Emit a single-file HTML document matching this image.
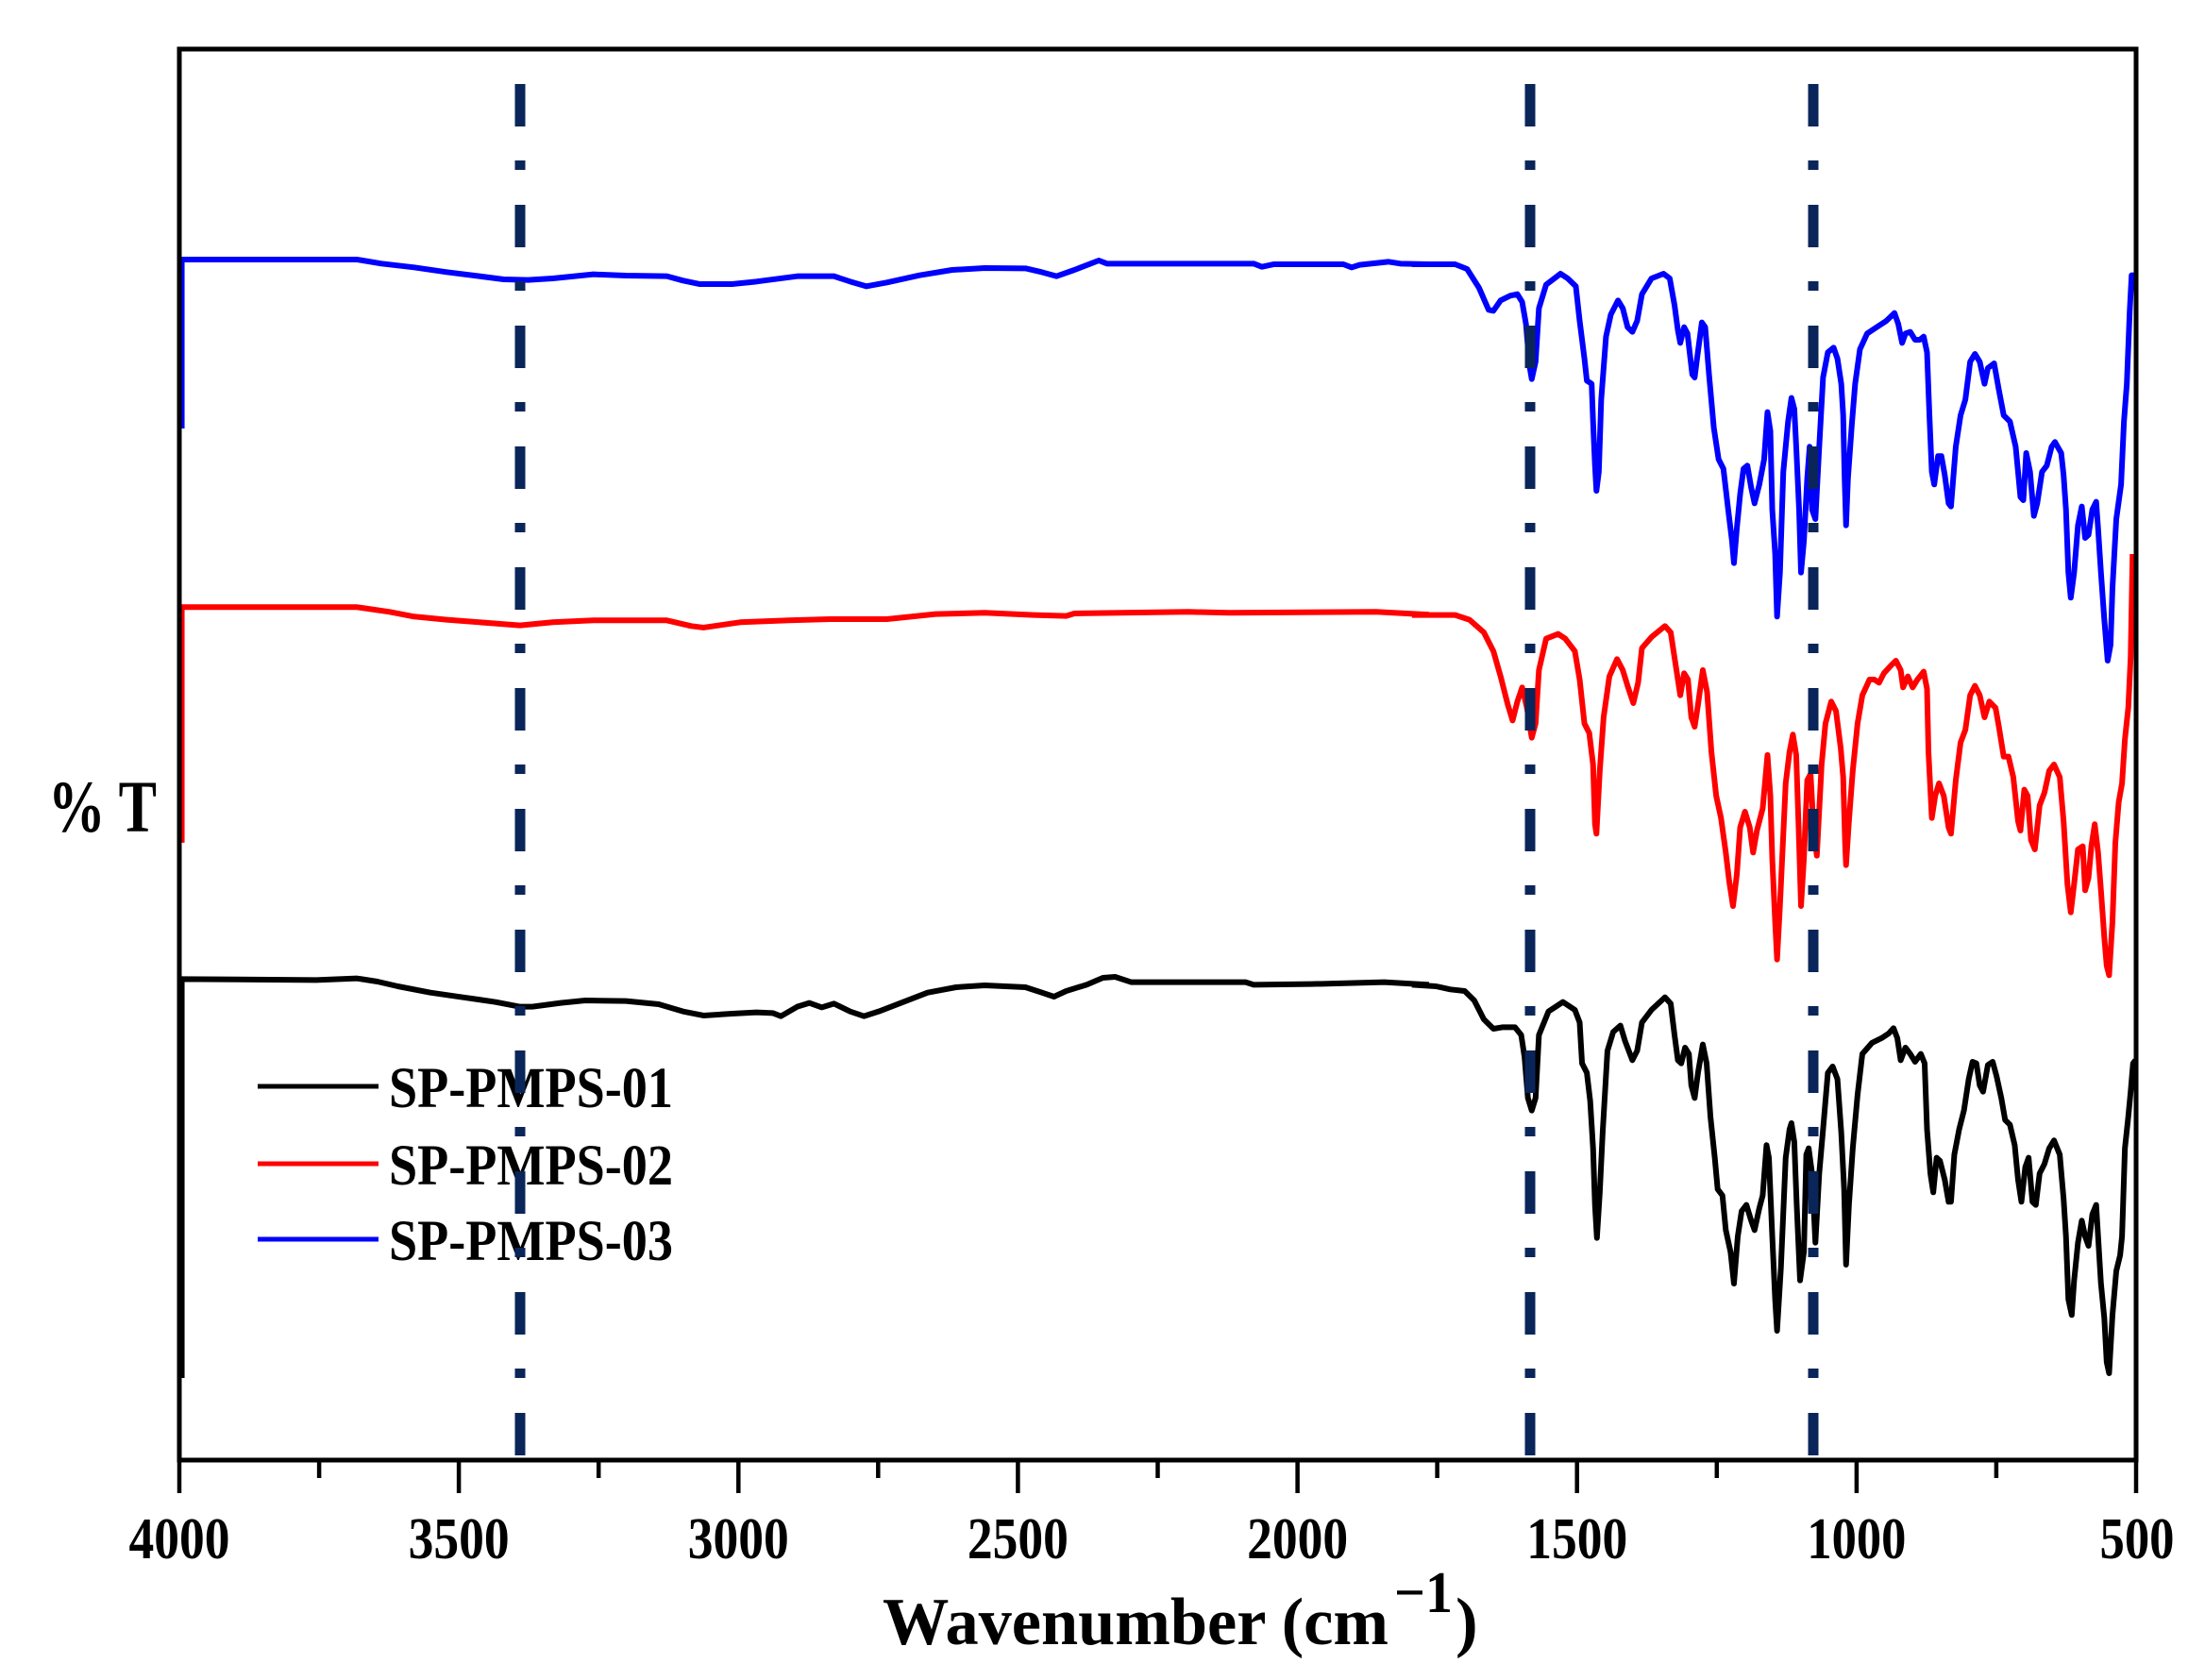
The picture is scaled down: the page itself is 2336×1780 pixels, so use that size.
<!DOCTYPE html>
<html>
<head>
<meta charset="utf-8">
<style>
html,body{margin:0;padding:0;background:#fff;}
svg{display:block;}
text{font-family:"Liberation Serif","Times New Roman",serif;font-weight:bold;fill:#000;}
</style>
</head>
<body>
<svg width="2336" height="1780" viewBox="0 0 2336 1780" xmlns="http://www.w3.org/2000/svg">
<rect x="0" y="0" width="2336" height="1780" fill="#fff"/>

<!-- BLUE (SP-PMPS-03) -->
<g transform="translate(179.6,250) scale(0.8636,0.3333)" fill="none" stroke="#0000ff" stroke-linejoin="round">
<polyline vector-effect="non-scaling-stroke" stroke-width="6" points="15,612 15,75 230,75 260,88 300,100 340,115 380,128 410,138 440,140 470,135 520,122 560,126 610,128 630,142 650,153 690,153 720,145 770,128 815,128 835,145 855,160 880,148 920,125 960,108 1000,102 1050,103 1070,115 1088,128 1110,108 1140,78 1150,88 1330,88 1340,98 1355,90 1440,90 1450,100 1460,92 1495,82 1510,88 1545,90"/>
</g>
<g transform="translate(1506,240) scale(0.5076,0.3333)" fill="none" stroke="#0000ff" stroke-linejoin="round">
<polyline vector-effect="non-scaling-stroke" stroke-width="6" points="-20,120 70,120 95,135 120,195 140,265 150,268 165,235 185,220 200,215 210,240 218,310 225,440 230,485 238,430 245,260 260,185 290,150 305,165 322,190 330,300 340,420 345,490 355,500 358,620 362,760 365,840 370,780 375,550 385,350 395,280 410,235 420,260 430,320 440,335 450,300 460,215 480,165 505,150 518,165 528,250 535,330 540,370 548,320 555,340 565,470 570,480 575,420 585,305 592,320 600,470 610,640 620,740 630,770 640,900 648,1000 652,1070 658,960 665,850 672,770 680,760 688,830 695,880 705,820 715,740 722,590 728,650 732,900 738,1040 742,1240 748,1100 755,780 765,620 772,545 778,580 782,700 788,900 792,1100 798,1000 805,800 810,700 815,900 822,930 830,700 838,480 848,400 860,385 868,420 876,500 880,600 883,800 886,950 890,800 898,630 905,500 915,390 930,340 950,320 970,300 987,275 995,310 1003,370 1010,340 1020,335 1030,360 1040,360 1048,350 1055,400 1060,600 1065,780 1070,820 1078,730 1085,730 1092,790 1100,880 1105,890 1115,700 1125,600 1135,550 1145,430 1155,405 1165,430 1175,500 1182,450 1195,435 1205,520 1215,600 1228,620 1240,700 1250,860 1256,870 1262,720 1270,780 1278,920 1285,880 1295,780 1305,760 1315,700 1322,685 1335,720 1340,790 1345,900 1350,1100 1355,1180 1362,1100 1370,950 1378,890 1385,990 1392,980 1400,900 1408,875 1412,960 1418,1100 1425,1250 1432,1380 1438,1330 1442,1150 1450,930 1460,820 1466,620 1472,500 1478,270 1482,155 1487,155"/>
</g>

<!-- RED (SP-PMPS-02) -->
<g transform="translate(179.6,250) scale(0.8636,0.3333)" fill="none" stroke="#ff0000" stroke-linejoin="round">
<polyline vector-effect="non-scaling-stroke" stroke-width="6" points="15,1929 15,1180 230,1180 270,1195 300,1210 340,1220 400,1232 430,1238 470,1228 520,1222 610,1222 640,1240 655,1245 700,1228 760,1222 810,1218 880,1218 940,1202 1000,1198 1060,1205 1100,1208 1110,1200 1250,1195 1300,1198 1480,1195 1545,1204"/>
</g>
<g transform="translate(1506,610) scale(0.5076,0.3333)" fill="none" stroke="#ff0000" stroke-linejoin="round">
<polyline vector-effect="non-scaling-stroke" stroke-width="6" points="-20,125 70,125 100,140 130,180 150,240 165,320 180,410 190,460 200,400 210,355 220,420 230,515 238,470 245,300 260,200 285,185 300,200 320,240 330,330 340,470 350,500 358,600 362,790 365,820 372,620 380,450 392,320 408,265 420,300 430,350 442,405 452,340 460,230 480,195 508,160 520,180 528,260 535,330 540,380 548,310 556,330 563,450 570,480 577,410 587,300 596,370 605,560 615,700 625,770 635,880 642,970 650,1050 658,950 665,800 675,750 685,800 692,880 700,810 712,740 722,570 728,700 732,900 738,1100 742,1220 748,1050 760,660 768,560 775,505 782,570 787,800 792,1050 798,900 805,650 812,630 818,800 825,890 835,600 843,470 855,400 865,430 875,550 880,640 884,850 886,920 892,780 900,620 910,470 920,380 935,330 945,330 955,340 965,310 980,285 990,270 1000,300 1005,355 1015,320 1025,355 1035,330 1048,305 1055,360 1058,560 1065,770 1072,700 1080,660 1090,700 1100,800 1105,820 1115,650 1125,530 1135,490 1145,380 1155,350 1165,380 1175,450 1185,400 1198,420 1205,480 1215,575 1225,575 1235,640 1245,780 1250,810 1258,680 1265,700 1272,840 1280,870 1290,730 1300,690 1310,620 1320,600 1332,640 1340,780 1348,980 1355,1070 1362,980 1370,870 1380,860 1385,1000 1392,960 1398,860 1405,790 1412,880 1418,1000 1425,1150 1430,1240 1435,1270 1442,1100 1448,850 1455,720 1462,660 1468,520 1475,420 1480,260 1484,-69"/>
</g>

<!-- BLACK (SP-PMPS-01) -->
<g transform="translate(179.6,1010) scale(0.8636,0.3333)" fill="none" stroke="#000" stroke-linejoin="round">
<polyline vector-effect="non-scaling-stroke" stroke-width="6" points="15,1350 15,82 180,85 230,80 255,90 280,105 320,125 360,140 400,155 430,170 445,170 480,158 510,150 560,152 600,162 630,185 655,198 690,192 720,188 740,190 750,200 770,170 785,158 800,172 815,160 835,185 852,200 870,185 900,155 930,125 965,108 1000,102 1050,108 1070,125 1085,138 1100,120 1125,100 1145,78 1160,75 1180,92 1320,92 1330,100 1400,98 1490,92 1545,100"/>
</g>
<g transform="translate(1506,1010) scale(0.5076,0.3333)" fill="none" stroke="#000" stroke-linejoin="round">
<polyline vector-effect="non-scaling-stroke" stroke-width="6" points="-20,100 30,105 60,115 90,120 110,150 130,210 150,240 170,235 195,235 208,260 215,330 222,460 230,500 238,460 245,260 265,185 295,155 320,180 330,220 335,350 345,380 352,470 358,620 362,800 366,905 372,760 378,570 388,310 400,250 415,230 425,280 440,340 450,310 460,220 480,180 508,140 520,160 528,260 535,340 542,350 550,300 558,320 563,420 570,460 577,380 587,290 595,350 603,520 612,650 618,750 628,770 635,880 645,950 652,1050 660,900 668,820 678,800 688,850 695,880 705,810 712,770 720,610 725,650 732,900 738,1100 742,1200 750,1000 760,650 768,560 772,540 778,600 783,800 790,1040 798,950 803,640 808,620 815,700 822,920 830,700 838,560 848,380 858,360 868,400 876,570 882,750 886,990 892,800 900,620 910,450 920,320 940,285 960,270 975,255 985,238 993,270 1000,340 1010,300 1020,320 1030,345 1042,320 1050,350 1055,560 1062,700 1068,760 1075,650 1082,660 1092,720 1100,790 1105,790 1112,640 1122,560 1132,500 1142,400 1150,345 1158,350 1165,420 1172,440 1182,355 1192,345 1200,390 1210,460 1218,530 1228,545 1238,610 1245,720 1252,790 1260,680 1267,650 1275,790 1282,800 1290,700 1300,670 1310,620 1320,595 1332,640 1340,780 1345,900 1350,1100 1357,1150 1362,1040 1370,920 1378,850 1385,900 1392,930 1400,830 1408,800 1412,900 1418,1050 1425,1160 1430,1300 1435,1335 1442,1150 1450,1010 1458,960 1462,900 1468,620 1475,520 1480,440 1485,350 1490,340"/>
</g>

<!-- Frame -->
<rect x="190" y="52" width="2073" height="1495" fill="none" stroke="#000" stroke-width="5"/>

<!-- Ticks -->
<g stroke="#000" stroke-width="4.5">
<line x1="190" y1="1547" x2="190" y2="1582"/>
<line x1="486.1" y1="1547" x2="486.1" y2="1582"/>
<line x1="782.3" y1="1547" x2="782.3" y2="1582"/>
<line x1="1078.4" y1="1547" x2="1078.4" y2="1582"/>
<line x1="1374.6" y1="1547" x2="1374.6" y2="1582"/>
<line x1="1670.7" y1="1547" x2="1670.7" y2="1582"/>
<line x1="1966.9" y1="1547" x2="1966.9" y2="1582"/>
<line x1="2263" y1="1547" x2="2263" y2="1582"/>
<line x1="338.1" y1="1547" x2="338.1" y2="1566"/>
<line x1="634.2" y1="1547" x2="634.2" y2="1566"/>
<line x1="930.3" y1="1547" x2="930.3" y2="1566"/>
<line x1="1226.5" y1="1547" x2="1226.5" y2="1566"/>
<line x1="1522.6" y1="1547" x2="1522.6" y2="1566"/>
<line x1="1818.8" y1="1547" x2="1818.8" y2="1566"/>
<line x1="2114.9" y1="1547" x2="2114.9" y2="1566"/>
</g>

<!-- Tick labels -->
<g font-size="62" text-anchor="middle">
<text x="190" y="1651" textLength="107" lengthAdjust="spacingAndGlyphs">4000</text>
<text x="486.1" y="1651" textLength="107" lengthAdjust="spacingAndGlyphs">3500</text>
<text x="782.3" y="1651" textLength="107" lengthAdjust="spacingAndGlyphs">3000</text>
<text x="1078.4" y="1651" textLength="107" lengthAdjust="spacingAndGlyphs">2500</text>
<text x="1374.6" y="1651" textLength="107" lengthAdjust="spacingAndGlyphs">2000</text>
<text x="1670.7" y="1651" textLength="107" lengthAdjust="spacingAndGlyphs">1500</text>
<text x="1966.9" y="1651" textLength="105" lengthAdjust="spacingAndGlyphs">1000</text>
<text x="2264" y="1651" textLength="79" lengthAdjust="spacingAndGlyphs">500</text>
</g>

<!-- Axis titles -->
<text x="935" y="1742" font-size="71" textLength="536" lengthAdjust="spacingAndGlyphs">Wavenumber (cm</text>
<text x="1477" y="1708" font-size="62" textLength="62" lengthAdjust="spacingAndGlyphs">−1</text>
<text x="1542" y="1742" font-size="71">)</text>
<text x="51" y="881" font-size="78" textLength="115" lengthAdjust="spacingAndGlyphs">% T</text>

<!-- Legend -->
<g stroke-width="5">
<line x1="273" y1="1151" x2="401" y2="1151" stroke="#000"/>
<line x1="273" y1="1233" x2="401" y2="1233" stroke="#ff0000"/>
<line x1="273" y1="1313" x2="401" y2="1313" stroke="#0000ff"/>
</g>
<g font-size="61">
<text x="412" y="1173" textLength="301" lengthAdjust="spacingAndGlyphs">SP-PMPS-01</text>
<text x="412" y="1255" textLength="301" lengthAdjust="spacingAndGlyphs">SP-PMPS-02</text>
<text x="412" y="1335" textLength="301" lengthAdjust="spacingAndGlyphs">SP-PMPS-03</text>
</g>

<!-- Dash-dot reference lines -->
<g stroke="#0a2559" stroke-width="11" stroke-dasharray="45 36 10 37" fill="none">
<line x1="551" y1="89" x2="551" y2="1543"/>
<line x1="1621" y1="89" x2="1621" y2="1543"/>
<line x1="1921" y1="89" x2="1921" y2="1543"/>
</g>
</svg>
</body>
</html>
